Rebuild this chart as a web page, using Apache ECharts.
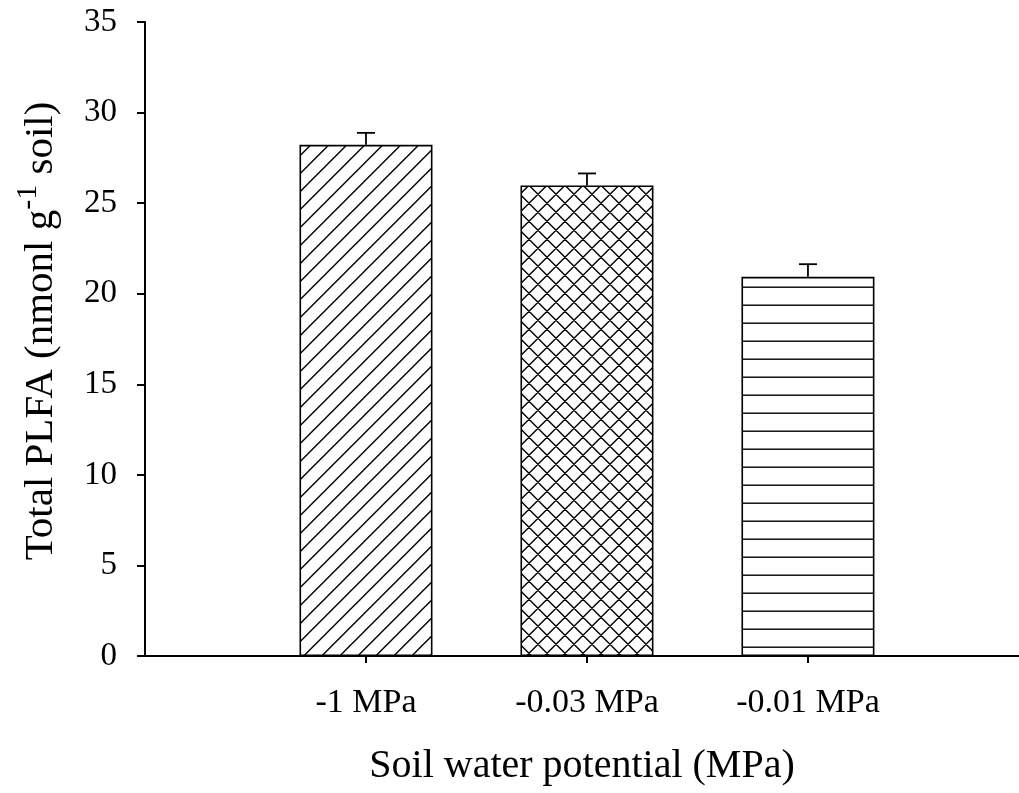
<!DOCTYPE html>
<html>
<head>
<meta charset="utf-8">
<script src="https://cdn.jsdelivr.net/npm/echarts@6/dist/echarts.min.js"></script>
<style>
  html, body { margin: 0; background: #fff; }
  #chart { width: 1019px; height: 793px; }
</style>
</head>
<body>
<div id="chart"></div>
<script>
// data
const categories = ["-1 MPa", "-0.03 MPa", "-0.01 MPa"];
const positions = [1, 2, 3];
const means = [28.22, 25.98, 20.93];
const errors = [0.66, 0.66, 0.70];
const hatches = ["diag", "cross", "horiz"];

const FONT = "Liberation Serif";

// small tiles used as fill patterns for the bars
function hatch(kind) {
  const s = 18;
  const c = document.createElement("canvas");
  c.width = s;
  c.height = s;
  const ctx = c.getContext("2d");
  ctx.fillStyle = "#fff";
  ctx.fillRect(0, 0, s, s);
  ctx.strokeStyle = "#000";
  ctx.lineWidth = 1.4;
  ctx.beginPath();
  if (kind === "diag" || kind === "cross") {
    const a = kind === "diag" ? 5.7 : 12.3;
    for (let k = -1; k <= 2; k++) {
      const v = a + k * s;
      ctx.moveTo(v + 2, -2);
      ctx.lineTo(v - s - 2, s + 2);
    }
  }
  if (kind === "cross") {
    const d = 1.7;
    for (let k = -1; k <= 2; k++) {
      const v = d + k * s;
      ctx.moveTo(v - 2, -2);
      ctx.lineTo(v + s + 2, s + 2);
    }
  }
  if (kind === "horiz") {
    ctx.moveTo(-1, 17.2);
    ctx.lineTo(s + 1, 17.2);
  }
  ctx.stroke();
  return { image: c, repeat: "repeat" };
}

const chart = echarts.init(document.getElementById("chart"));

const options = {
  animation: false,
  backgroundColor: "#fff",
  grid: {
    left: 145,
    right: 0,
    top: 22,
    bottom: 137,
    containLabel: false,
    outerBoundsMode: "none",
  },
  xAxis: {
    type: "value",
    min: 0,
    max: 3.955,
    splitLine: { show: false },
    axisLine: { lineStyle: { color: "#000", width: 2 } },
    axisTick: {
      customValues: positions,
      length: 7,
      lineStyle: { color: "#000", width: 2 },
    },
    axisLabel: {
      customValues: positions,
      formatter: (v) => categories[Math.round(v) - 1] || "",
      color: "#000",
      fontFamily: FONT,
      fontSize: 34,
      margin: 30,
    },
    name: "Soil water potential (MPa)",
    nameLocation: "middle",
    nameGap: 90,
    nameTextStyle: { color: "#000", fontFamily: FONT, fontSize: 40 },
  },
  yAxis: {
    type: "value",
    min: 0,
    max: 35,
    interval: 5,
    splitLine: { show: false },
    axisLine: { show: true, lineStyle: { color: "#000", width: 2 } },
    axisTick: { show: true, length: 8, lineStyle: { color: "#000", width: 2 } },
    axisLabel: {
      color: "#000",
      fontFamily: FONT,
      fontSize: 33,
      margin: 28,
    },
    name: "{a|Total PLFA (nmonl g}{s|-1}{a| soil)}",
    nameLocation: "middle",
    nameGap: 76,
    nameTextStyle: {
      color: "#000",
      fontFamily: FONT,
      fontSize: 41,
      padding: [0, 0, 0, 16],
      rich: {
        a: { fontFamily: FONT, fontSize: 41, lineHeight: 56, color: "#000" },
        s: { fontFamily: FONT, fontSize: 30, lineHeight: 14, verticalAlign: "top", color: "#000" },
      },
    },
  },
  series: [
    {
      type: "bar",
      barWidth: 133,
      silent: true,
      itemStyle: { borderColor: "#000", borderWidth: 1.6 },
      data: positions.map((p, i) => ({
        value: [p, means[i]],
        itemStyle: { color: hatch(hatches[i]) },
      })),
    },
    {
      // upper error bars
      type: "custom",
      silent: true,
      z: 5,
      data: positions.map((p, i) => [p, means[i], errors[i]]),
      renderItem(params, api) {
        const x = api.value(0);
        const base = api.coord([x, api.value(1)]);
        const top = api.coord([x, api.value(1) + api.value(2)]);
        const st = { stroke: "#000", lineWidth: 1.8 };
        return {
          type: "group",
          children: [
            { type: "line", shape: { x1: base[0], y1: base[1], x2: top[0], y2: top[1] }, style: st },
            { type: "line", shape: { x1: top[0] - 9, y1: top[1], x2: top[0] + 9, y2: top[1] }, style: st },
          ],
        };
      },
    },
  ],
};

chart.setOption(options);
</script>
</body>
</html>
